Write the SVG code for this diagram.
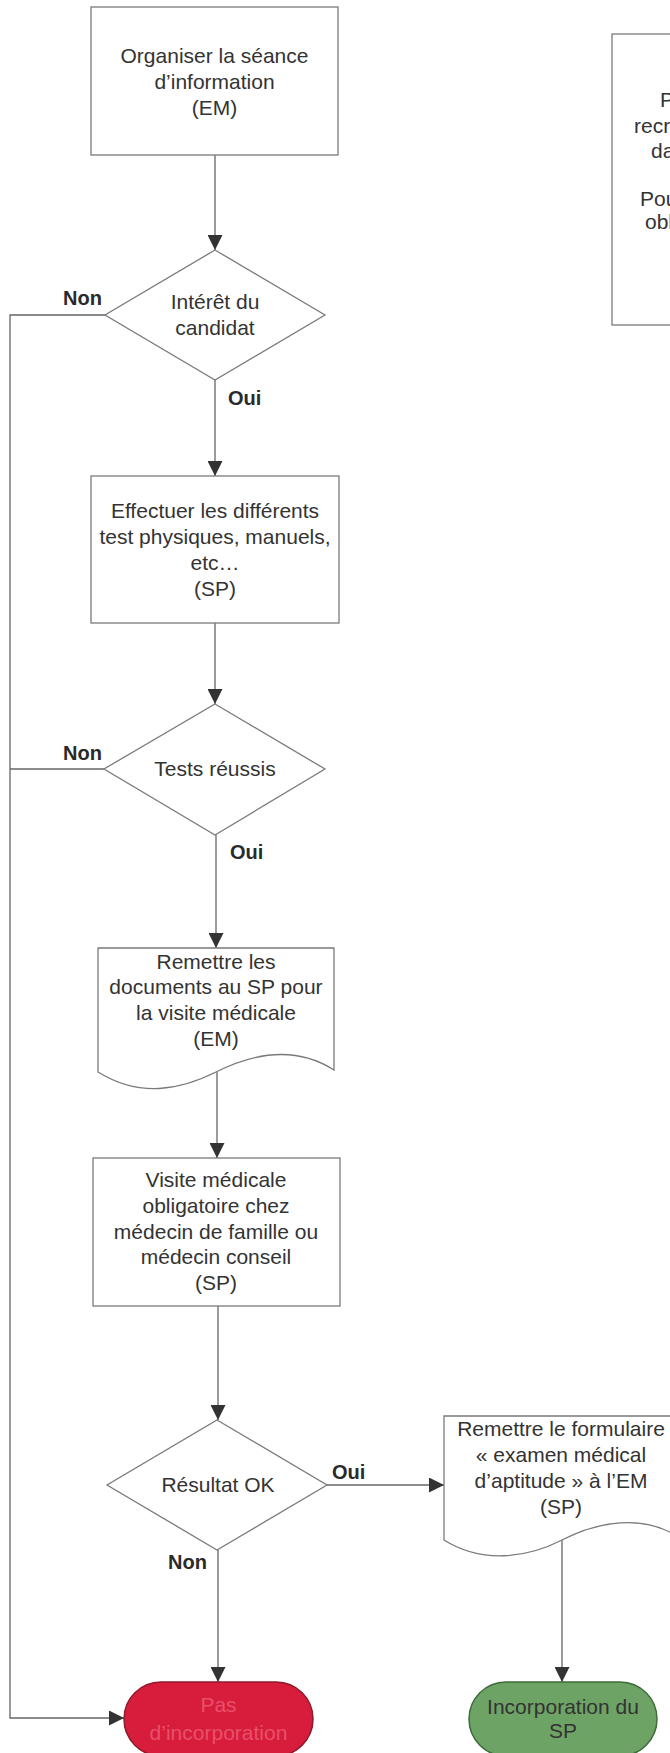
<svg xmlns="http://www.w3.org/2000/svg" width="670" height="1753" viewBox="0 0 670 1753">
<defs>
<style>
.shape{fill:#ffffff;stroke:#7a7a7a;stroke-width:1.3}
.conn{fill:none;stroke:#666;stroke-width:1.3}
.t{font-family:"Liberation Sans",Arial,sans-serif;font-size:21px;fill:#333;text-anchor:middle}
.tl{font-family:"Liberation Sans",Arial,sans-serif;font-size:21px;fill:#333}
.lbl{font-family:"Liberation Sans",Arial,sans-serif;font-size:20px;font-weight:bold;fill:#2a2a2a}
</style>
<marker id="arr" viewBox="0 0 10 10" refX="10" refY="5" markerWidth="15" markerHeight="15" markerUnits="userSpaceOnUse" orient="auto">
<path d="M0,0 L10,5 L0,10 z" fill="#333"/>
</marker>
</defs>
<rect width="670" height="1753" fill="#ffffff"/>

<g id="connectors">
<path class="conn" d="M215,155 V250" marker-end="url(#arr)"/>
<path class="conn" d="M105,315 H10 V1718 H124" marker-end="url(#arr)"/>
<path class="conn" d="M104,769 H10"/>
<path class="conn" d="M215,380 V476" marker-end="url(#arr)"/>
<path class="conn" d="M215,623 V704" marker-end="url(#arr)"/>
<path class="conn" d="M216,835 V948" marker-end="url(#arr)"/>
<path class="conn" d="M217,1072 V1158" marker-end="url(#arr)"/>
<path class="conn" d="M218,1306 V1420" marker-end="url(#arr)"/>
<path class="conn" d="M327,1485 H444" marker-end="url(#arr)"/>
<path class="conn" d="M218,1550 V1682" marker-end="url(#arr)"/>
<path class="conn" d="M562,1540 V1682" marker-end="url(#arr)"/>
</g>

<g id="n1">
<rect class="shape" x="91" y="7" width="247" height="148"/>
<text class="t" x="214.5" y="63">Organiser la séance</text>
<text class="t" x="214.5" y="89">d’information</text>
<text class="t" x="214.5" y="115">(EM)</text>
</g>

<g id="d1">
<polygon class="shape" points="215,250 325,315 215,380 105,315"/>
<text class="t" x="215" y="309">Intérêt du</text>
<text class="t" x="215" y="335">candidat</text>
<text class="lbl" x="63" y="305">Non</text>
<text class="lbl" x="228" y="405">Oui</text>
</g>

<g id="n2">
<rect class="shape" x="91" y="476" width="248" height="147"/>
<text class="t" x="215" y="518">Effectuer les différents</text>
<text class="t" x="215" y="544">test physiques, manuels,</text>
<text class="t" x="215" y="570">etc…</text>
<text class="t" x="215" y="596">(SP)</text>
</g>

<g id="d2">
<polygon class="shape" points="215,704 325,769 215,835 104,769"/>
<text class="t" x="215" y="776">Tests réussis</text>
<text class="lbl" x="63" y="760">Non</text>
<text class="lbl" x="230" y="859">Oui</text>
</g>

<g id="n3">
<path class="shape" d="M98,948 H334 V1070 C295,1045 252,1054 216,1072 C180,1090 140,1098 98,1072 Z"/>
<text class="t" x="216" y="969">Remettre les</text>
<text class="t" x="216" y="994">documents au SP pour</text>
<text class="t" x="216" y="1020">la visite médicale</text>
<text class="t" x="216" y="1046">(EM)</text>
</g>

<g id="n4">
<rect class="shape" x="93" y="1158" width="247" height="148"/>
<text class="t" x="216" y="1187">Visite médicale</text>
<text class="t" x="216" y="1213">obligatoire chez</text>
<text class="t" x="216" y="1239">médecin de famille ou</text>
<text class="t" x="216" y="1264">médecin conseil</text>
<text class="t" x="216" y="1290">(SP)</text>
</g>

<g id="d3">
<polygon class="shape" points="217,1420 327,1485 217,1550 107,1485"/>
<text class="t" x="218" y="1492">Résultat OK</text>
<text class="lbl" x="332" y="1479">Oui</text>
<text class="lbl" x="168" y="1569">Non</text>
</g>

<g id="n5">
<path class="shape" d="M444,1416 H680 V1538 C643,1513 597,1522 562,1540 C527,1558 482,1564 444,1540 Z"/>
<text class="t" x="561" y="1436">Remettre le formulaire</text>
<text class="t" x="561" y="1462">« examen médical</text>
<text class="t" x="561" y="1488">d’aptitude » à l’EM</text>
<text class="t" x="561" y="1514">(SP)</text>
</g>

<g id="end_no">
<rect x="124" y="1682" width="189" height="74" rx="37" ry="37" fill="#d81c3c" stroke="#8e1a2c" stroke-width="1.5"/>
<text class="t" x="218.5" y="1712" style="fill:#e8506a">Pas</text>
<text class="t" x="218.5" y="1740" style="fill:#e8506a">d’incorporation</text>
</g>

<g id="end_yes">
<rect x="469" y="1682" width="188" height="74" rx="37" ry="37" fill="#6ea366" stroke="#3e6b3a" stroke-width="1.5"/>
<text class="t" x="563" y="1714">Incorporation du</text>
<text class="t" x="563" y="1738">SP</text>
</g>

<g id="note">
<rect class="shape" x="612" y="34" width="200" height="291"/>
<text class="tl" x="660" y="107">P</text>
<text class="tl" x="634" y="133">recr</text>
<text class="tl" x="651" y="158">da</text>
<text class="tl" x="640" y="206">Pou</text>
<text class="tl" x="645" y="229">obl</text>
</g>
</svg>
